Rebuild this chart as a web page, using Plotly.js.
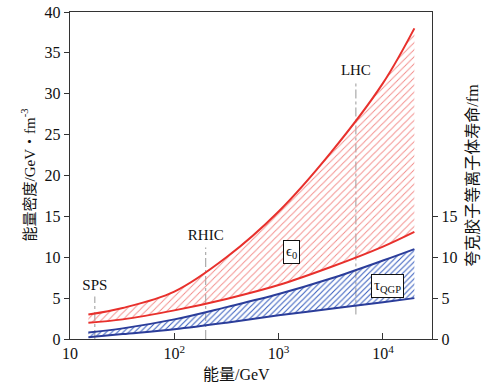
<!DOCTYPE html>
<html><head><meta charset="utf-8">
<script src="https://cdn.plot.ly/plotly-3.0.1.min.js"></script>
<style>html,body{margin:0;padding:0;background:#fff}#c{width:491px;height:391px}</style>
</head><body><div id="c"></div>
<script>
const energy = [15, 32, 100, 316, 1000, 3162, 10000, 20000];
const epsUpper = [3.0, 3.8, 5.8, 10.0, 15.6, 22.8, 31.3, 38.0];
const epsLower = [2.0, 2.4, 3.5, 4.9, 6.6, 8.8, 11.3, 13.1];
const tauUpper = [0.8, 1.3, 2.4, 3.9, 5.5, 7.4, 9.6, 11.0];
const tauLower = [0.2, 0.6, 1.2, 2.0, 2.9, 3.7, 4.5, 5.0];

const colliders = ['SPS', 'RHIC', 'LHC'];
const colliderEnergy = [17.3, 200, 5500];
const colliderLineTop = [5.2, 11.2, 31.4];
const colliderLineBottom = [0, 0, 3.0];
const colliderLabelY = [6.5, 12.6, 32.8];

const boxLabels = ['ϵ<sub>0</sub>', 'τ<sub>QGP</sub>'];
const boxEnergy = [1320, 11000];
const boxY = [10.7, 6.5];

const xTickVals = [10, 100, 1000, 10000];
const xTickText = ['10', '10<sup>2</sup>', '10<sup>3</sup>', '10<sup>4</sup>'];
const rightTickVals = [0, 5, 10, 15];

const xTitle = '能量/GeV';
const yTitle = '能量密度/GeV・fm<sup>-3</sup>';
const y2Title = '夸克胶子等离子体寿命/fm';

const SERIF = 'Liberation Serif, Times New Roman, Noto Sans CJK SC, serif';
const RED = '#e8302c', BLUE = '#2b3d9a';

const traces = [];
colliders.forEach((c, i) => {
  traces.push({x: [colliderEnergy[i], colliderEnergy[i]], y: [colliderLineBottom[i], colliderLineTop[i]],
    mode: 'lines', line: {color: '#999', width: 1, dash: 'dashdot'}, hoverinfo: 'skip', showlegend: false});
});
traces.push({x: energy, y: epsLower, mode: 'lines', line: {color: RED, width: 2, shape: 'spline'}, showlegend: false});
traces.push({x: energy, y: epsUpper, mode: 'lines', line: {color: RED, width: 2, shape: 'spline'}, fill: 'tonexty',
  fillcolor: 'rgba(0,0,0,0)',
  fillpattern: {shape: '/', fgcolor: '#f28a88', bgcolor: 'rgba(255,255,255,0)', size: 5, solidity: 0.18}, showlegend: false});
traces.push({x: energy, y: tauLower, mode: 'lines', line: {color: BLUE, width: 2, shape: 'spline'}, showlegend: false});
traces.push({x: energy, y: tauUpper, mode: 'lines', line: {color: BLUE, width: 2, shape: 'spline'}, fill: 'tonexty',
  fillcolor: 'rgba(0,0,0,0)',
  fillpattern: {shape: '/', fgcolor: '#3d62c0', bgcolor: 'rgba(255,255,255,0)', size: 4, solidity: 0.28}, showlegend: false});
traces.push({x: colliderEnergy, y: colliderLabelY, mode: 'text', text: colliders,
  textfont: {family: SERIF, size: 15, color: '#111'}, showlegend: false, hoverinfo: 'skip'});
traces.push({x: [10, 10], y: [0, 0], yaxis: 'y2', mode: 'markers', marker: {opacity: 0}, showlegend: false, hoverinfo: 'skip'});

const annotations = boxLabels.map((t, i) => ({
  x: Math.log10(boxEnergy[i]), y: boxY[i], xref: 'x', yref: 'y', text: t, showarrow: false,
  font: {family: SERIF, size: 15, color: '#111'}, bgcolor: '#fff', bordercolor: '#111', borderwidth: 1, borderpad: 2
}));
annotations.push({xref: 'paper', yref: 'paper', x: -0.116, y: 0.50, xanchor: 'center', yanchor: 'middle',
  textangle: -90, text: yTitle, showarrow: false, font: {family: SERIF, size: 15, color: '#111'}});
annotations.push({xref: 'paper', yref: 'paper', x: 0.461, y: -0.11, xanchor: 'center', yanchor: 'middle',
  text: xTitle, showarrow: false, font: {family: SERIF, size: 16, color: '#111'}});

const layout = {
  width: 491, height: 391,
  margin: {l: 70, r: 59, t: 12, b: 52},
  paper_bgcolor: '#fff', plot_bgcolor: '#fff',
  font: {family: SERIF, size: 15, color: '#111'},
  xaxis: {type: 'log', range: [1, 4.47], tickvals: xTickVals, ticktext: xTickText,
    ticks: 'inside', ticklen: 6, tickcolor: '#333', showline: true, linecolor: '#333', linewidth: 1.2,
    mirror: true, showgrid: false, zeroline: false,
    tickfont: {family: SERIF, size: 16}},
  yaxis: {range: [0, 40], dtick: 5, ticks: 'outside', ticklen: 5, tickcolor: '#333',
    showline: true, linecolor: '#333', linewidth: 1.2, showgrid: false, zeroline: false,
    tickfont: {family: SERIF, size: 16}},
  yaxis2: {overlaying: 'y', side: 'right', range: [0, 40], tickvals: rightTickVals,
    ticks: 'outside', ticklen: 5, tickcolor: '#333', showline: true, linecolor: '#333', linewidth: 1.2,
    showgrid: false, zeroline: false, tickfont: {family: SERIF, size: 16},
    title: {text: y2Title, font: {family: SERIF, size: 16}, standoff: 10}},
  annotations: annotations,
  showlegend: false
};
Plotly.newPlot('c', traces, layout, {staticPlot: true});
</script></body></html>
